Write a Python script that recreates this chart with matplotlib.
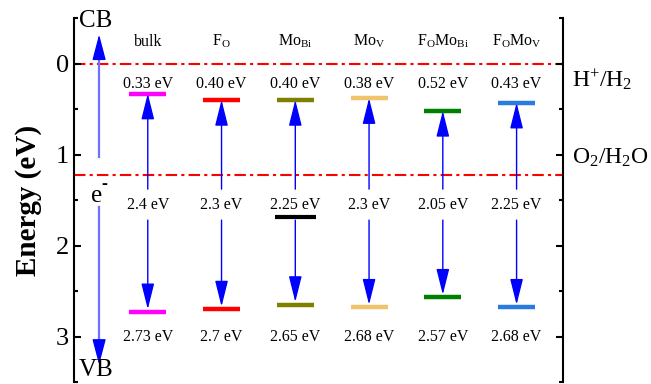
"""
Band edge diagram of doped BiVO4 against water redox levels.
"""
import matplotlib
matplotlib.use('Agg')
import matplotlib.pyplot as plt

plt.rcParams['font.family'] = ['Liberation Serif', 'DejaVu Serif']
plt.rcParams['mathtext.fontset'] = 'custom'
plt.rcParams['mathtext.rm'] = 'Liberation Serif'
plt.rcParams['mathtext.it'] = 'Liberation Serif:italic'
plt.rcParams['mathtext.bf'] = 'Liberation Serif:bold'

# Data
labels = ['bulk', r'F$_\mathrm{O}$', r'Mo$_\mathrm{Bi}$', r'Mo$_\mathrm{V}$',
          r'F$_\mathrm{O}$Mo$_\mathrm{Bi}$', r'F$_\mathrm{O}$Mo$_\mathrm{V}$']
cb_levels = [0.33, 0.40, 0.40, 0.38, 0.52, 0.43]
cb_text = ['0.33 eV', '0.40 eV', '0.40 eV', '0.38 eV', '0.52 eV', '0.43 eV']
vb_levels = [2.73, 2.70, 2.65, 2.68, 2.57, 2.68]
vb_text = ['2.73 eV', '2.7 eV', '2.65 eV', '2.68 eV', '2.57 eV', '2.68 eV']
gap_text = ['2.4 eV', '2.3 eV', '2.25 eV', '2.3 eV', '2.05 eV', '2.25 eV']
colors = ['#ff00ff', '#ff0000', '#808000', '#f0c46c', '#008000', '#2a7be0']
mid_state = (3, 1.69)  # black defect level in the Mo_Bi column
redox_levels = [0.0, 1.23]
redox_names = [r'H$^{+}$/H$_2$', r'O$_2$/H$_2$O']

fig = plt.figure(figsize=(6.51, 3.84), dpi=100)
ax = fig.add_axes([0.1137, 0.005, 0.7512, 0.948])
ax.set_xlim(0, 6.63)
ax.set_ylim(3.5, -0.5)

# Water redox potentials
for lvl in redox_levels:
    ax.axhline(lvl, color='red', lw=1.5, ls=(0, (5.5, 2, 1.5, 2)), zorder=1)
ax.text(6.75, 0.18, redox_names[0], fontsize=17, va='center', ha='left',
        clip_on=False)
ax.text(6.75, 1.04, redox_names[1], fontsize=17, va='center', ha='left',
        clip_on=False)

arrow = dict(arrowstyle='-|>,head_length=1.6,head_width=0.4',
             mutation_scale=10, color='blue', lw=1, shrinkA=0, shrinkB=0)

for i, x in enumerate(range(1, len(labels) + 1)):
    ax.hlines(cb_levels[i], x - 0.25, x + 0.25, color=colors[i], lw=3.2,
              zorder=3)
    ax.hlines(vb_levels[i], x - 0.25, x + 0.25, color=colors[i], lw=3.2,
              zorder=3)
    ax.text(x, -0.24, labels[i], fontsize=11.5, ha='center', va='center')
    ax.text(x, 0.22, cb_text[i], fontsize=11.5, ha='center', va='center')
    ax.text(x, 1.55, gap_text[i], fontsize=11.5, ha='center', va='center')
    ax.text(x, 3.0, vb_text[i], fontsize=11.5, ha='center', va='center')
    ax.annotate('', xy=(x, cb_levels[i]), xytext=(x, 1.38),
                arrowprops=arrow)
    ax.annotate('', xy=(x, vb_levels[i] - 0.03), xytext=(x, 1.72),
                arrowprops=arrow)

ax.hlines(mid_state[1], mid_state[0] - 0.28, mid_state[0] + 0.28,
          color='black', lw=3, zorder=3)

# Electron excitation guide on the left: light shaft, solid head
ax.plot([0.34, 0.34], [1.03, -0.15], color='#7070ff', lw=1.6)
ax.plot([0.34, 0.34], [1.58, 3.15], color='#7070ff', lw=1.6)
head = dict(arrowstyle='-|>,head_length=1.6,head_width=0.42',
            mutation_scale=10, color='blue', lw=1, shrinkA=0, shrinkB=0)
ax.annotate('', xy=(0.34, -0.32), xytext=(0.34, -0.1), arrowprops=head)
ax.annotate('', xy=(0.34, 3.31), xytext=(0.34, 3.1), arrowprops=head)
ax.text(0.30, -0.47, 'CB', fontsize=18, ha='center', va='center')
ax.text(0.30, 3.37, 'VB', fontsize=18, ha='center', va='center')
ax.text(0.31, 1.46, 'e', fontsize=18, ha='center', va='center')
ax.text(0.41, 1.33, '-', fontsize=13, ha='center', va='center',
        fontweight='bold')

# Axes styling
ax.spines['top'].set_visible(False)
ax.spines['bottom'].set_visible(False)
for side_name in ['left', 'right']:
    ax.spines[side_name].set_linewidth(1.5)
ax.set_xticks([])
ax.set_yticks([0, 1, 2, 3])
ax.set_yticks([-0.5, 0.5, 1.5, 2.5, 3.5], minor=True)
ax.tick_params(axis='y', which='both', direction='in', right=True,
               labelright=False, width=1.5)
ax.tick_params(axis='y', which='major', length=5, labelsize=19)
ax.tick_params(axis='y', which='minor', length=3)
ax.set_ylabel('Energy (eV)', fontsize=21, fontweight='bold', labelpad=10)

fig.savefig('out.png', dpi=100)
